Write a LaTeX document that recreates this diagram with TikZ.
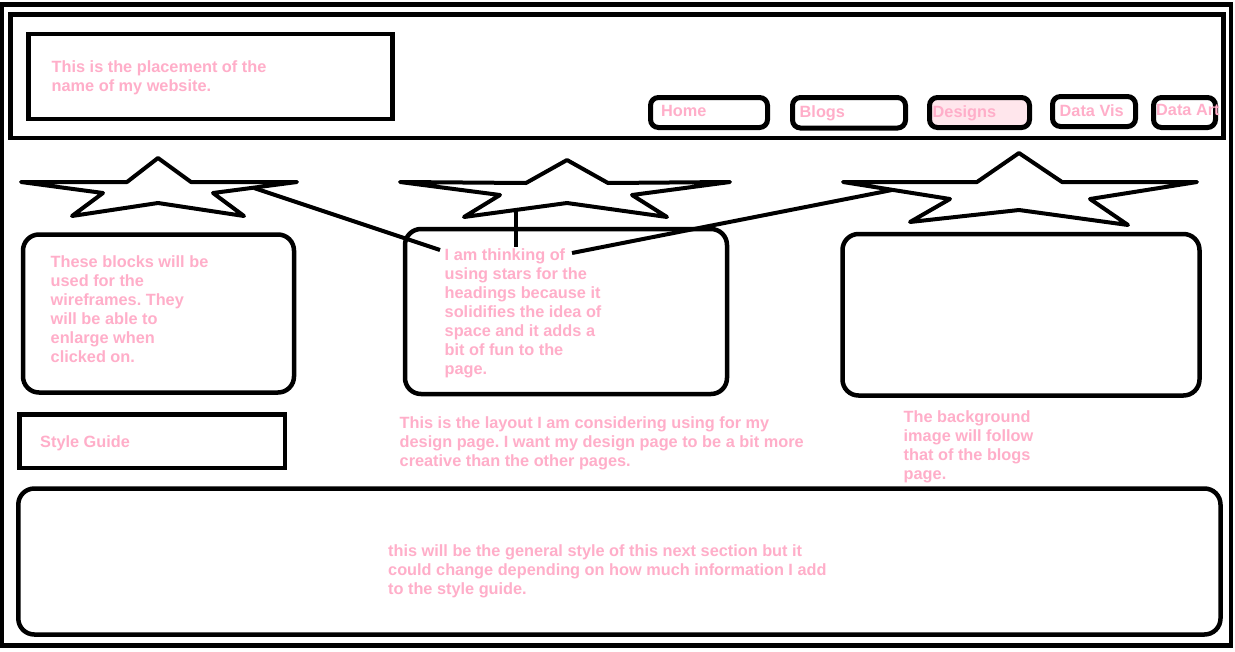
\documentclass[tikz,border=0pt]{standalone}
\usepackage{fontspec}
\setmainfont{Liberation Sans}
\definecolor{notepink}{RGB}{255,174,201}
\definecolor{navfill}{RGB}{255,230,236}
\frenchspacing

\begin{document}
\begin{tikzpicture}[x=1pt,y=-1pt,
	frame/.style={line width=4.5pt},
	box/.style={line width=4.5pt,rounded corners=16pt},
	navbox/.style={line width=5pt,rounded corners=8pt},
	starline/.style={line width=4pt,line join=round},
	link/.style={line width=4pt},
	note/.style={anchor=north west,inner sep=0pt,align=left,text=notepink,
		font=\fontsize{16.3}{19}\selectfont\bfseries}]
	\path[use as bounding box,fill=white] (0,0) rectangle (1235,651);

	% header
	\draw[frame] (2,4.7) rectangle (1231,645.5);
	\draw[frame] (10.5,14.7) rectangle (1223.3,138);
	\draw[frame] (28.3,33.8) rectangle (392.5,119);
	\node[note] (title) at (51.5,60.3) {This is the placement of the\\name of my website.};

	% menu
	\draw[navbox] (650.5,97.5) rectangle (767.5,127.5);
	\draw[navbox] (792.5,97.5) rectangle (905.5,128);
	\filldraw[navbox,fill=navfill] (929.5,97.5) rectangle (1029.5,127.5);
	\draw[navbox] (1052.5,96.5) rectangle (1135.5,126.5);
	\draw[navbox] (1153.5,97.5) rectangle (1215.5,127.5);
	\node[note] (home) at (661,105.2) {Home};
	\node[note] (blogs) at (799.5,105.2) {Blogs};
	\node[note] (designs) at (932.5,105.2) {Designs};
	\node[note] (datavis) at (1059.5,104.2) {Data Vis};
	\node[note] (dataart) at (1156,104.2) {Data Art};

	% stars
	\draw[starline] (21,182) -- (103,193) -- (72,216) -- (158,203) -- (244,216)
		-- (213,193) -- (297,182) -- (191,182) -- (158,158) -- (127,182) -- cycle;
	\draw[starline] (400,182) -- (500,195) -- (464,217) -- (567,203) -- (667,217)
		-- (632,195) -- (730,182) -- (608,183) -- (567,160) -- (526,183) -- cycle;
	\draw[starline] (843,182) -- (950,199) -- (910,222) -- (1019,210) -- (1128,225)
		-- (1090,199) -- (1197,182) -- (1062,182) -- (1019,153) -- (977,182) -- cycle;
	\coordinate (star1) at (254,188);
	\coordinate (star2) at (516,210);
	\coordinate (star3) at (892,190);

	% blocks
	\draw[box] (23,234.5) rectangle (294,392.5);
	\draw[box] (405,229) rectangle (727,394);
	\draw[box] (842.5,234) rectangle (1199.5,395.5);
	\node[note] (blocks) at (50.5,255) {These blocks will be\\used for the\\wireframes. They\\will be able to\\enlarge when\\clicked on.};
	\node[note] (idea) at (444.5,248.3) {I am thinking of\\using stars for the\\headings because it\\solidifies the idea of\\space and it adds a\\bit of fun to the\\page.};
	\coordinate (ideaa) at (440,250);
	\coordinate (ideab) at (516,247);
	\coordinate (ideac) at (572,253);
	\draw[link] (star1) -- (ideaa);
	\draw[link] (star2) -- (ideab);
	\draw[link] (ideac) -- (star3);

	\draw[frame] (19.5,414.5) rectangle (285,468);
	\node[note] (guide) at (40,435) {Style Guide};
	\node[note] (layout) at (399.5,416.6) {This is the layout I am considering using for my\\design page. I want my design page to be a bit more\\creative than the other pages.};
	\node[note] (background) at (903.5,410) {The background\\image will follow\\that of the blogs\\page.};

	% footer section
	\draw[box] (18.3,488.5) rectangle (1220.5,634.5);
	\node[note] (section) at (388,544) {this will be the general style of this next section but it\\could change depending on how much information I add\\to the style guide.};
\end{tikzpicture}
\end{document}
